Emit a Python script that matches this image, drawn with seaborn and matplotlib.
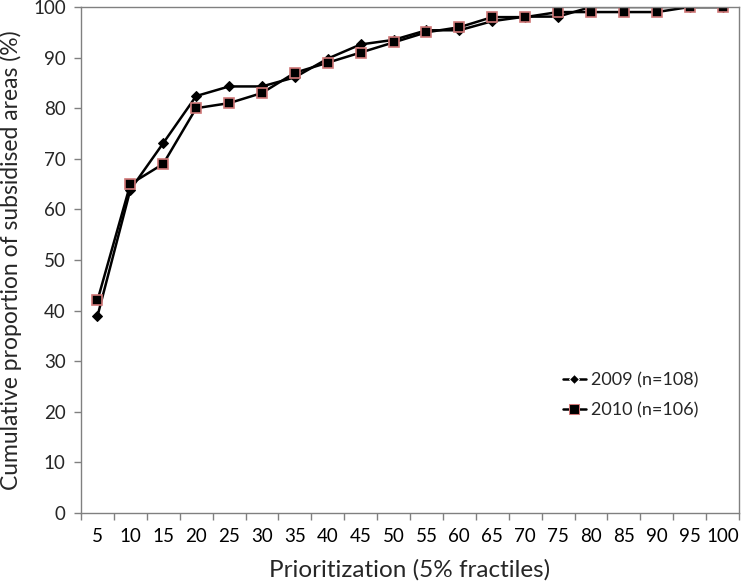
import matplotlib
matplotlib.use("Agg")
import matplotlib.pyplot as plt
import seaborn as sns
import pandas as pd
from matplotlib.ticker import FixedLocator

categories = ["5", "10", "15", "20", "25", "30", "35", "40", "45", "50",
              "55", "60", "65", "70", "75", "80", "85", "90", "95", "100"]
values_2009 = [38.9, 63.9, 73.1, 82.4, 84.3, 84.3, 86.1, 89.8, 92.6, 93.5,
               95.4, 95.4, 97.2, 98.1, 98.1, 100, 100, 100, 100, 100]
values_2010 = [42, 65, 69, 80, 81, 83, 87, 89, 91, 93,
               95, 96, 98, 98, 99, 99, 99, 99, 100, 100]
series_labels = ["2009 (n=108)", "2010 (n=106)"]
y_ticks = [0, 10, 20, 30, 40, 50, 60, 70, 80, 90, 100]

df = pd.DataFrame({
    "fractile": categories * 2,
    "value": values_2009 + values_2010,
    "series": [series_labels[0]] * len(categories) + [series_labels[1]] * len(categories),
})

sns.set_style("white")
plt.rcParams["font.family"] = ["Lato", "DejaVu Sans"]

fig = plt.figure(figsize=(7.42, 5.86), dpi=100)
ax = fig.add_axes([81 / 742, 73 / 586, (739 - 81) / 742, (513 - 7) / 586])

sns.lineplot(data=df, x="fractile", y="value", hue="series", style="series",
             palette=["black", "black"], markers={series_labels[0]: "D", series_labels[1]: "s"},
             dashes=False, linewidth=1.8, ax=ax, sort=False)

lines = ax.get_lines()
lines[0].set_markersize(5.5)
lines[0].set_markerfacecolor("black")
lines[0].set_markeredgecolor("black")
lines[1].set_markersize(7)
lines[1].set_markerfacecolor("black")
lines[1].set_markeredgecolor("#d07878")
lines[1].set_markeredgewidth(1.2)

n = len(categories)
ax.set_xlim(-0.5, n - 0.5)
ax.set_ylim(0, 100)
ax.set_yticks(y_ticks)
ax.set_xticks(range(n))
ax.set_xticklabels(categories)
ax.xaxis.set_minor_locator(FixedLocator([i - 0.5 for i in range(n + 1)]))
ax.tick_params(axis="x", which="major", length=0, pad=11, labelsize=13.5, colors="black")
ax.tick_params(axis="x", which="minor", length=5, width=1, color="#808080", direction="out", bottom=True)
ax.tick_params(axis="y", length=5, width=1, color="#808080", direction="out", left=True,
               labelsize=13.5, pad=6)

for s in ax.spines.values():
    s.set_color("#808080")
    s.set_linewidth(1)

ax.set_xlabel("Prioritization (5% fractiles)", fontsize=17.5, labelpad=10)
ax.set_ylabel("Cumulative proportion of subsidised areas (%)", fontsize=16.5, labelpad=8)

handles, labels = ax.get_legend_handles_labels()
for h in handles:
    h.set_color("black")
    h.set_linestyle("-")
handles[1].set_markeredgecolor("#d07878")
handles[0].set_markersize(5.5)
handles[1].set_markersize(7)
leg = ax.legend(handles, labels, loc="center left", bbox_to_anchor=(0.732, 0.233),
                frameon=False, fontsize=13, handlelength=1.3, handletextpad=0.25,
                labelspacing=0.75, borderpad=0, borderaxespad=0)

fig.savefig("out.png", dpi=100)
